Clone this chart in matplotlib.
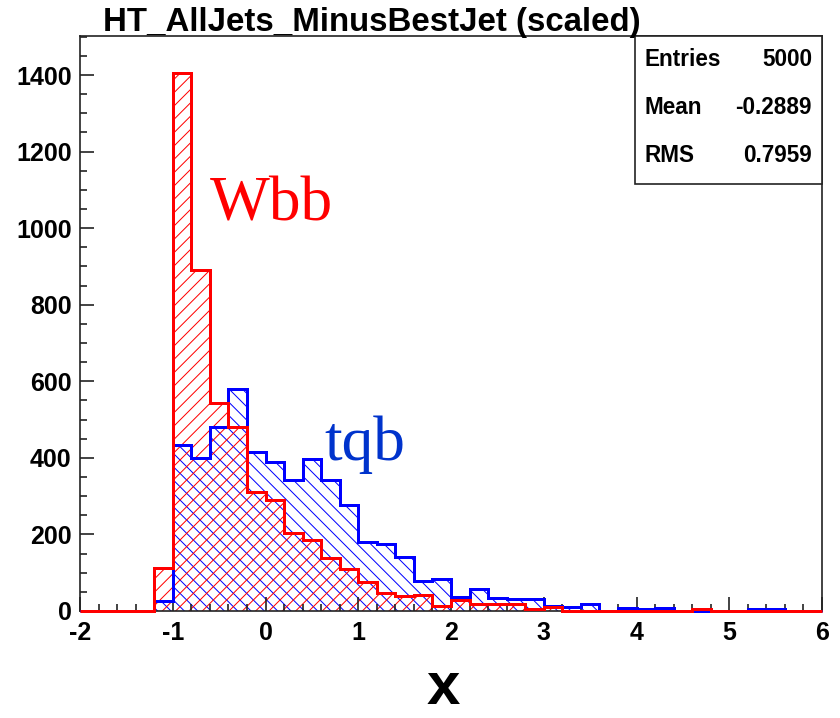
import matplotlib
matplotlib.use("Agg")
import matplotlib.pyplot as plt
import numpy as np
from matplotlib.patches import Rectangle
from matplotlib.ticker import MultipleLocator

# 40 bins of width 0.2 from -2 to 6
bin_edges = np.round(np.arange(-2.0, 6.01, 0.2), 2)

wbb_counts = [
    0, 0, 0, 0, 112, 1405, 890, 543, 480, 311,
    290, 204, 185, 139, 110, 75, 48, 39, 43, 13,
    30, 18, 18, 18, 5, 11, 1, 1, 1, 0,
    0, 0, 0, 5, 0, 0, 0, 0, 0, 0,
]
tqb_counts = [
    0, 0, 0, 0, 27, 433, 400, 480, 580, 416,
    388, 342, 397, 342, 277, 180, 175, 142, 78, 83,
    36, 57, 34, 31, 31, 14, 10, 17, 1, 8,
    6, 9, 0, 1, 0, 0, 5, 5, 0, 0,
]

title = "HT_AllJets_MinusBestJet (scaled)"
stats_rows = [("Entries", "5000"), ("Mean", "-0.2889"), ("RMS", "0.7959")]
x_ticks = [-2, -1, 0, 1, 2, 3, 4, 5, 6]
y_ticks = [0, 200, 400, 600, 800, 1000, 1200, 1400]

RED = "#ff0000"
BLUE = "#0000ff"

plt.rcParams["font.family"] = ["Liberation Sans", "DejaVu Sans"]
plt.rcParams["hatch.linewidth"] = 0.6
plt.rcParams["axes.unicode_minus"] = False

fig = plt.figure(figsize=(7.0, 718 / 120), dpi=120)
ax = fig.add_axes([80 / 840, 107 / 718, 742 / 840, 575 / 718])

ax.stairs(tqb_counts, bin_edges, fill=True, facecolor="none",
          edgecolor=BLUE, hatch="\\\\\\", linewidth=0)
ax.stairs(wbb_counts, bin_edges, fill=True, facecolor="none",
          edgecolor=RED, hatch="///", linewidth=0)
ax.stairs(tqb_counts, bin_edges, color=BLUE, linewidth=1.8,
          zorder=3, clip_on=False)
ax.stairs(wbb_counts, bin_edges, color=RED, linewidth=1.8,
          zorder=3, clip_on=False)

ax.set_xlim(-2, 6)
ax.set_ylim(0, 1502)
ax.set_xticks(x_ticks)
ax.set_yticks(y_ticks)
ax.xaxis.set_minor_locator(MultipleLocator(0.2))
ax.yaxis.set_minor_locator(MultipleLocator(50))
ax.tick_params(which="both", direction="in", top=False, right=False,
               width=1.0, color="#222222")
ax.tick_params(which="major", length=8.4, labelsize=15)
ax.tick_params(which="minor", length=4.2)
ax.tick_params(axis="x", pad=6)
ax.tick_params(axis="y", pad=5)
for lbl in ax.get_xticklabels() + ax.get_yticklabels():
    lbl.set_fontweight("bold")
for sp in ax.spines.values():
    sp.set_linewidth(1.0)
    sp.set_color("#222222")

ax.text(-0.6, 1021, "Wbb", color=RED, fontsize=38,
        family="Liberation Serif", va="baseline", ha="left")
ax.text(0.64, 394, "tqb", color="#0033cc", fontsize=38,
        family="Liberation Serif", va="baseline", ha="left")

fig.text(103 / 840, 1 - 31 / 718, title, fontsize=19.8, fontweight="bold",
         ha="left", va="baseline")

fig.text(443 / 840, 2 / 718, "x", fontsize=36, fontweight="bold",
         ha="center", va="bottom")

# stats box
box_left = (635 - 80) / 742
box_bottom = (611 - 184) / 575
ax.add_patch(Rectangle((box_left, box_bottom), 1 - box_left, 1 - box_bottom,
                       transform=ax.transAxes, facecolor="white",
                       edgecolor="#222222", linewidth=1.0, clip_on=False,
                       zorder=5))
row_y = [60, 108, 155]
for (name, val), py in zip(stats_rows, row_y):
    fig.text(645 / 840, 1 - py / 718, name, fontsize=13.5, fontweight="bold",
             ha="left", va="center", zorder=6)
    fig.text(812 / 840, 1 - py / 718, val, fontsize=13.5, fontweight="bold",
             ha="right", va="center", zorder=6)

fig.savefig("out.png", dpi=120)
